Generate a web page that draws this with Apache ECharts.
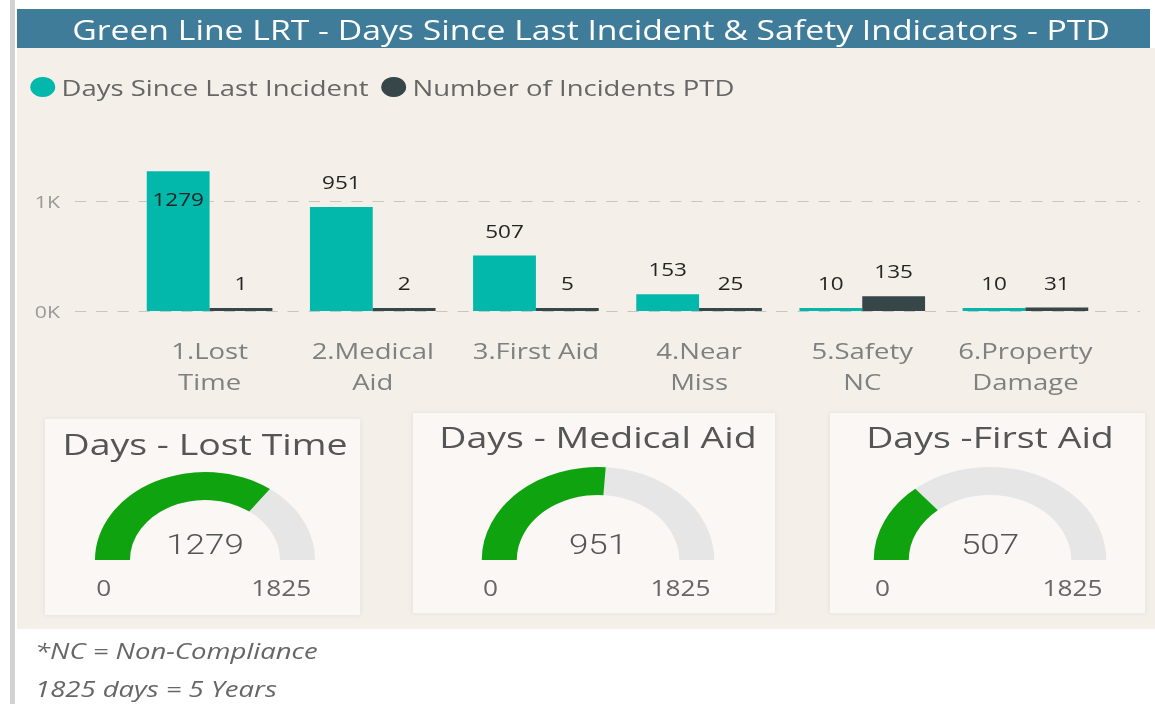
<!DOCTYPE html>
<html>
<head>
<meta charset="utf-8">
<script src="https://cdn.jsdelivr.net/npm/echarts@6/dist/echarts.min.js"></script>
<style>
  html, body { margin: 0; padding: 0; background: #ffffff; overflow: hidden; }
  /* the source report is stretched sideways, so the chart is drawn narrower and stretched back */
  #main { width: 924px; height: 704px; transform: scaleX(1.25); transform-origin: 0 0; }
</style>
</head>
<body>
<div id="main"></div>
<script>
// bar chart data
const categories = ['1.Lost\nTime', '2.Medical\nAid', '3.First Aid', '4.Near\nMiss', '5.Safety\nNC', '6.Property\nDamage']
const daysSinceLast = [1279, 951, 507, 153, 10, 10]
const incidentsPTD = [1, 2, 5, 25, 135, 31]
const seriesNames = ['Days Since Last Incident', 'Number of Incidents PTD']

// gauges
const gaugeTitles = ['Days - Lost Time', 'Days - Medical Aid', 'Days -First Aid']
const gaugeValues = [1279, 951, 507]
const gaugeMin = 0
const gaugeMax = 1825

const footNotes = ['*NC = Non-Compliance', '1825 days = 5 Years']

const S = 1.25
const X = function (v) { return v / S }   // page x -> chart x
const FONT = "'Open Sans', 'Noto Sans', sans-serif"
const TEAL = '#01b8aa'
const DARK = '#374649'
const GREEN = '#10a310'
const Y_MAX = 1400

const gaugeLayout = [
  { cx: 205, cy: 560, r: 88, titleY: -116 },
  { cx: 598, cy: 560, r: 93, titleY: -123 },
  { cx: 990, cy: 560, r: 93, titleY: -123 }
]
const cards = [
  { x: 45, y: 419, w: 315, h: 196 },
  { x: 413, y: 413, w: 362, h: 200 },
  { x: 830, y: 413, w: 315, h: 200 }
]

let chart = echarts.init(document.getElementById('main'), null, { renderer: 'svg' })

let graphics = [
  { type: 'rect', z: -10, shape: { x: X(17), y: 48, width: X(1138), height: 581 }, style: { fill: '#f4efe9' } },
  { type: 'rect', z: -10, shape: { x: X(10), y: 0, width: X(5), height: 704 }, style: { fill: '#d2d2d2' } },
  { type: 'rect', z: -10, shape: { x: X(17), y: 9, width: X(1133), height: 39 }, style: { fill: '#3e7c99' } },
  {
    type: 'text', x: X(591), y: 29,
    style: { text: 'Green Line LRT - Days Since Last Incident & Safety Indicators - PTD', fill: '#ffffff', font: '27px ' + FONT, textAlign: 'center', textVerticalAlign: 'middle' }
  }
]
cards.forEach(function (c) {
  graphics.push({
    type: 'rect', z: -5, shape: { x: X(c.x), y: c.y, width: X(c.w), height: c.h },
    style: { fill: '#faf7f4', shadowBlur: 4, shadowColor: 'rgba(0,0,0,0.08)' }
  })
})
gaugeLayout.forEach(function (g) {
  graphics.push({
    type: 'text', x: X(g.cx) - g.r + 1, y: 588,
    style: { text: String(gaugeMin), fill: '#666666', font: '21px ' + FONT, textAlign: 'left', textVerticalAlign: 'middle' }
  })
  graphics.push({
    type: 'text', x: X(g.cx) + g.r - 3, y: 588,
    style: { text: String(gaugeMax), fill: '#666666', font: '21px ' + FONT, textAlign: 'right', textVerticalAlign: 'middle' }
  })
})
footNotes.forEach(function (t, i) {
  graphics.push({
    type: 'text', x: X(35), y: 650 + i * 38,
    style: { text: t, fill: '#666666', font: 'italic 22px ' + FONT, textAlign: 'left', textVerticalAlign: 'middle' }
  })
})

let gaugeSeries = gaugeValues.map(function (v, i) {
  let g = gaugeLayout[i]
  return {
    type: 'gauge',
    center: [X(g.cx), g.cy],
    radius: g.r,
    startAngle: 180,
    endAngle: 0,
    min: gaugeMin,
    max: gaugeMax,
    splitNumber: 1,
    progress: { show: true, width: 28, itemStyle: { color: GREEN } },
    axisLine: { lineStyle: { width: 28, color: [[1, '#e6e6e6']] } },
    pointer: { show: false },
    anchor: { show: false },
    axisTick: { show: false },
    splitLine: { show: false },
    axisLabel: { show: false },
    title: { offsetCenter: [0, g.titleY], fontSize: 30, color: '#555555', fontFamily: FONT },
    detail: { offsetCenter: [0, -15], fontSize: 28, fontWeight: 300, color: '#555555', fontFamily: 'Roboto, sans-serif', valueAnimation: false, formatter: '{value}' },
    data: [{ value: v, name: gaugeTitles[i] }]
  }
})

let labelCommon = { show: true, position: 'top', distance: 16, color: '#252423', fontSize: 18, fontFamily: FONT }

let option = {
  animation: false,
  graphic: graphics,
  legend: {
    left: X(24), top: 71,
    icon: 'circle', itemWidth: 20, itemHeight: 20, itemGap: 10,
    textStyle: { color: '#666666', fontSize: 22, fontFamily: FONT },
    data: seriesNames
  },
  grid: [
    { left: X(128), right: X(48), top: 158, bottom: 393 },
    { left: X(75), right: X(15), top: 158, bottom: 393 }
  ],
  xAxis: [
    {
      type: 'category', gridIndex: 0, data: categories,
      axisLine: { show: false }, axisTick: { show: false },
      axisLabel: { interval: 0, color: '#808080', fontSize: 22, fontFamily: FONT, lineHeight: 31, margin: 24 }
    },
    { type: 'value', gridIndex: 1, show: false }
  ],
  yAxis: [
    { type: 'value', gridIndex: 0, min: 0, max: Y_MAX, show: false },
    {
      type: 'value', gridIndex: 1, min: 0, max: Y_MAX, interval: 1000,
      axisLine: { show: false }, axisTick: { show: false },
      axisLabel: { color: '#999999', fontSize: 17, fontFamily: FONT, margin: 12, showMaxLabel: false, formatter: function (v) { return (v / 1000) + 'K' } },
      splitLine: { showMaxLine: false, lineStyle: { color: '#c9c5c1', type: [9, 8], width: 1 } }
    }
  ],
  series: [
    {
      name: seriesNames[0], type: 'bar', xAxisIndex: 0, yAxisIndex: 0,
      barGap: 0, barCategoryGap: '23%', barMinHeight: 3,
      itemStyle: { color: TEAL },
      label: labelCommon,
      data: daysSinceLast.map(function (v) {
        // tallest bar's label sits inside the bar, as in the reference
        return v / Y_MAX > 0.85 ? { value: v, label: { position: 'insideTop', distance: 19 } } : v
      })
    },
    {
      name: seriesNames[1], type: 'bar', xAxisIndex: 0, yAxisIndex: 0,
      barMinHeight: 3,
      itemStyle: { color: DARK },
      label: labelCommon,
      data: incidentsPTD
    }
  ].concat(gaugeSeries)
}
chart.setOption(option)
</script>
</body>
</html>
